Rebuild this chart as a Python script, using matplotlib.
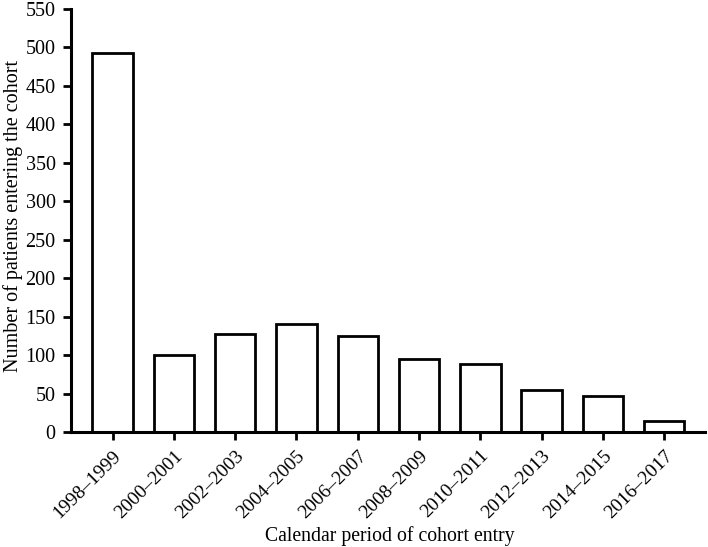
#Gráfico de barras: pacientes que entraram na coorte por período
import matplotlib.pyplot as plt
import numpy as np

#Dados
periodos = ['1998\u20131999', '2000\u20132001', '2002\u20132003', '2004\u20132005', '2006\u20132007',
            '2008\u20132009', '2010\u20132011', '2012\u20132013', '2014\u20132015', '2016\u20132017']
pacientes = [493, 100, 128, 140, 125, 95, 88, 55, 47, 14]

plt.rcParams['font.family'] = ['Liberation Serif', 'DejaVu Serif']

fig = plt.figure(figsize=(7.08, 5.47), dpi=100)
ax = fig.add_axes([0.1003, 0.2102, 0.8957, 0.7733])

x = np.arange(len(periodos))
ax.bar(x, pacientes, width=0.66, color='white', edgecolor='black', linewidth=2)

ax.set_xlim(-0.68, len(periodos) - 1 + 0.67)
ax.set_ylim(0, 550)
ax.set_yticks(np.arange(0, 551, 50))
ax.set_xticks(x)
ax.set_xticklabels(periodos, rotation=45, ha='right', rotation_mode='anchor', fontsize=14)

for lado in ['top', 'right']:
    ax.spines[lado].set_visible(False)
for lado in ['left', 'bottom']:
    ax.spines[lado].set_linewidth(2.2)

ax.tick_params(axis='both', direction='out', length=6, width=2, colors='black', pad=5)
ax.tick_params(axis='y', labelsize=14.5)

#Rótulos dos eixos posicionados na figura
fig.text(390 / 708, 1 - 536 / 547, 'Calendar period of cohort entry', fontsize=14.2,
         ha='center', va='center')
fig.text(13 / 708, 1 - 216 / 547, 'Number of patients entering the cohort', fontsize=14.5,
         ha='center', va='center', rotation=90)

plt.savefig('out.png', dpi=100)
